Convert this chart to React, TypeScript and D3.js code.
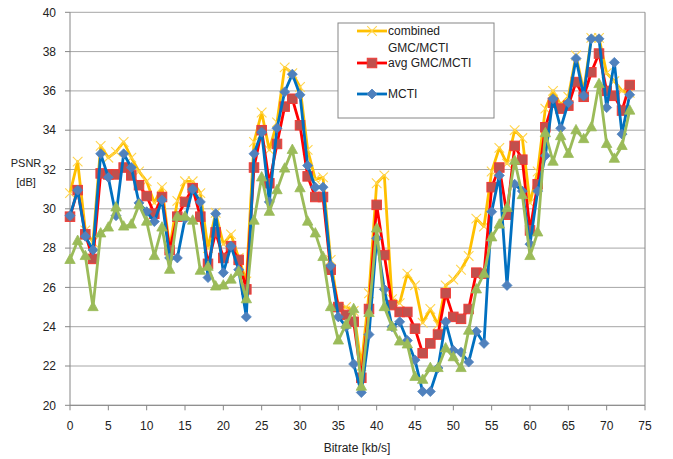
import React from "react";
import * as d3 from "d3";

const bitrate: number[] = d3.range(0, 74);

const combined: number[] = [
  30.8, 32.4, 28.9, 28.3, 33.2, 32.6, 32.9, 33.4, 32.6, 31.9,
  31.4, 30.3, 31.1, 28.0, 30.4, 31.4, 31.4, 30.8, 28.0, 29.8,
  28.2, 28.7, 27.5, 26.3, 33.4, 34.9, 33.0, 34.4, 37.2, 36.9,
  36.2, 33.0, 31.5, 31.6, 27.4, 25.0, 25.0, 24.8, 22.0, 25.7,
  31.3, 31.7, 25.4, 25.2, 26.7, 26.1, 24.2, 24.9, 24.1, 26.1,
  26.4, 26.9, 27.6, 29.5, 29.1, 31.9, 33.1, 32.3, 34.0, 33.6,
  30.3, 31.9, 35.1, 36.0, 35.3, 35.7, 37.8, 36.0, 38.7, 38.7,
  36.9, 36.5, 36.0, 35.9,
];

const avg: number[] = [
  29.6, 30.95, 28.7, 27.45, 31.8, 31.75, 31.75, 32.1, 31.7, 31.2,
  30.65, 29.75, 30.6, 27.9, 29.6, 30.35, 31.05, 29.6, 27.2, 28.8,
  27.5, 28.1, 27.4, 25.9, 32.1, 34.0, 31.3, 33.3, 35.2, 35.6,
  34.25, 31.65, 30.6, 30.6, 26.9, 25.0, 24.6, 24.25, 21.4, 24.9,
  30.2, 27.65, 25.1, 24.75, 24.75, 23.9, 22.65, 23.15, 23.6, 25.7,
  24.5, 24.4, 24.9, 26.75, 26.7, 31.1, 32.1, 29.7, 33.2, 32.5,
  28.9, 31.25, 34.15, 35.4, 35.1, 35.25, 36.45, 35.7, 36.95, 37.9,
  36.0, 35.75, 35.0, 36.3,
];

const mcti: number[] = [
  29.65, 30.95, 28.6, 27.9, 32.8, 31.6, 29.65, 32.8, 32.1, 30.3,
  29.85, 29.35, 30.45, 27.5, 27.5, 29.5, 31.0, 30.35, 26.5, 29.75,
  26.75, 28.1, 26.9, 24.5, 32.8, 33.9, 30.35, 34.1, 35.95, 36.85,
  35.8, 32.2, 31.1, 31.1, 27.1, 24.5, 24.0, 22.1, 20.65, 23.6,
  28.5, 25.9, 24.0, 24.25, 23.3, 22.3, 20.7, 20.7, 21.9, 24.25,
  22.8, 22.7, 22.2, 23.75, 23.15, 29.85, 31.7, 26.1, 31.25, 30.9,
  28.2, 30.9, 32.7, 35.6, 34.1, 35.4, 37.65, 35.75, 38.65, 38.65,
  35.15, 37.45, 33.8, 35.8,
];

const fourth: number[] = [
  27.4, 28.37, 27.6, 25.0, 28.75, 29.05, 30.07, 29.1, 29.2, 30.2,
  29.35, 27.6, 29.05, 26.9, 29.6, 29.6, 29.4, 26.85, 27.05, 26.05,
  26.1, 26.4, 26.8, 25.4, 29.4, 31.6, 29.85, 30.95, 32.05, 33.0,
  31.05, 29.35, 28.75, 27.55, 25.0, 23.3, 24.1, 24.9, 20.95, 24.7,
  29.0, 25.0, 24.0, 23.25, 23.1, 21.45, 21.3, 21.9, 21.9, 22.9,
  22.45, 21.9, 23.8, 25.9, 26.7, 28.55, 29.2, 30.05, 32.45, 30.7,
  27.6, 28.8, 33.85, 32.4, 33.7, 32.8, 34.0, 33.55, 34.15, 36.35,
  33.3, 32.55, 33.2, 35.0,
];

const xTicks: number[] = d3.range(0, 80, 5);
const yTicks: number[] = d3.range(20, 42, 2);

const W = 673;
const H = 459;
const FONT = "'Liberation Sans', Arial, sans-serif";

const x = d3.scaleLinear().domain([0, 75]).range([70, 645]);
const y = d3.scaleLinear().domain([20, 40]).range([405.3, 12.3]);

type Marker = "x" | "square" | "diamond" | "triangle";

function MarkerShape({ kind, cx, cy }: { kind: Marker; cx: number; cy: number }) {
  if (kind === "x") {
    const r = 4.8;
    return (
      <path
        d={`M${cx - r},${cy - r}L${cx + r},${cy + r}M${cx - r},${cy + r}L${cx + r},${cy - r}`}
        stroke="#FFD54F"
        strokeWidth={1.1}
        fill="none"
      />
    );
  }
  if (kind === "square") {
    const s = 9.5;
    return (
      <rect
        x={cx - s / 2}
        y={cy - s / 2}
        width={s}
        height={s}
        fill="#C0504D"
        stroke="#F03A35"
        strokeWidth={1}
      />
    );
  }
  if (kind === "diamond") {
    const r = 5;
    return (
      <path
        d={`M${cx},${cy - r}L${cx + r},${cy}L${cx},${cy + r}L${cx - r},${cy}Z`}
        fill="#4F81BD"
        stroke="#4F81BD"
        strokeWidth={0.8}
      />
    );
  }
  return (
    <path
      d={`M${cx},${cy - 5.8}L${cx + 5.2},${cy + 3.6}L${cx - 5.2},${cy + 3.6}Z`}
      fill="#9BBB59"
      stroke="#9BBB59"
      strokeWidth={0.8}
    />
  );
}

const seriesList: { name: string; values: number[]; color: string; marker: Marker }[] = [
  { name: "combined", values: combined, color: "#FFC000", marker: "x" },
  { name: "avg", values: avg, color: "#FF0000", marker: "square" },
  { name: "mcti", values: mcti, color: "#0070C0", marker: "diamond" },
  { name: "fourth", values: fourth, color: "#9BBB59", marker: "triangle" },
];

export default function App() {
  const line = d3
    .line<number>()
    .x((_, i) => x(bitrate[i]))
    .y((d) => y(d));

  return (
    <svg
      width={W}
      height={H}
      style={{ position: "absolute", left: 0, top: 0, background: "#fff" }}
      fontFamily={FONT}
    >
      <rect x={0} y={0} width={W} height={H} fill="#fff" />
      {yTicks.map((t) => (
        <line key={"g" + t} x1={x(0)} x2={x(75)} y1={y(t)} y2={y(t)} stroke="#a6a6a6" strokeWidth={1} />
      ))}
      <line x1={x(0)} x2={x(0)} y1={y(40)} y2={y(20)} stroke="#868686" />
      <line x1={x(75)} x2={x(75)} y1={y(40)} y2={y(20)} stroke="#868686" />
      <line x1={x(0)} x2={x(75)} y1={y(20)} y2={y(20)} stroke="#868686" />
      {yTicks.map((t) => (
        <g key={"yt" + t}>
          <line x1={x(0) - 5} x2={x(0)} y1={y(t)} y2={y(t)} stroke="#868686" />
          <text x={x(0) - 14} y={y(t)} dy="0.35em" textAnchor="end" fontSize={12} fill="#222">
            {t}
          </text>
        </g>
      ))}
      {xTicks.map((t) => (
        <g key={"xt" + t}>
          <line x1={x(t)} x2={x(t)} y1={y(20)} y2={y(20) + 5} stroke="#868686" />
          <text x={x(t)} y={y(20) + 25} textAnchor="middle" fontSize={12} fill="#222">
            {t}
          </text>
        </g>
      ))}
      <text x={357} y={452} textAnchor="middle" fontSize={12} fill="#222">
        Bitrate [kb/s]
      </text>
      <text x={26} y={167} textAnchor="middle" fontSize={11} fill="#222">
        PSNR
      </text>
      <text x={26} y={186} textAnchor="middle" fontSize={11} fill="#222">
        [dB]
      </text>
      {seriesList.map((s) => (
        <g key={s.name}>
          <path d={line(s.values) || ""} fill="none" stroke={s.color} strokeWidth={2.8} strokeLinejoin="round" />
          {s.values.map((v, i) => (
            <MarkerShape key={i} kind={s.marker} cx={x(bitrate[i])} cy={y(v)} />
          ))}
        </g>
      ))}
      <g>
        <rect x={338} y={23} width={156} height={95} fill="#fff" stroke="#868686" strokeWidth={1} />
        <line x1={357} x2={387} y1={31} y2={31} stroke="#FFC000" strokeWidth={2.8} />
        <MarkerShape kind="x" cx={372} cy={31} />
        <text x={388} y={31} dy="0.35em" fontSize={12} fill="#222">combined</text>
        <text x={388} y={48} dy="0.35em" fontSize={12} fill="#222">GMC/MCTI</text>
        <line x1={357} x2={387} y1={63} y2={63} stroke="#FF0000" strokeWidth={2.8} />
        <MarkerShape kind="square" cx={372} cy={63} />
        <text x={388} y={63} dy="0.35em" fontSize={12} fill="#222">avg GMC/MCTI</text>
        <line x1={357} x2={387} y1={94} y2={94} stroke="#0070C0" strokeWidth={2.8} />
        <MarkerShape kind="diamond" cx={372} cy={94} />
        <text x={388} y={94} dy="0.35em" fontSize={12} fill="#222">MCTI</text>
      </g>
    </svg>
  );
}
